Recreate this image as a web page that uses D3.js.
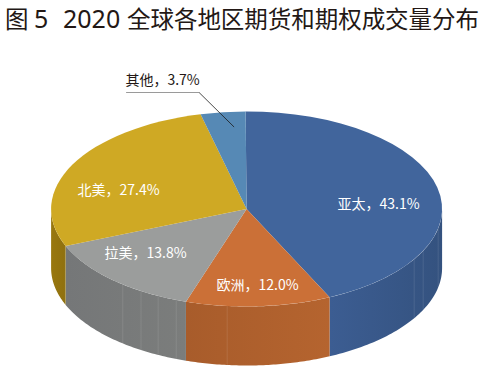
<!DOCTYPE html>
<html>
<head>
<meta charset="utf-8">
<script src="https://cdn.jsdelivr.net/npm/d3@7"></script>
<style>
	html, body { margin: 0; padding: 0; background: #fff; }
	svg { display: block; }
	text { font-family: "Noto Sans CJK SC", "Noto Sans", sans-serif; }
</style>
</head>
<body>
<div id="chart"></div>
<script>
const title_parts = ['图', '5', '2020', '全球各地区期货和期权成交量分布'];

const categories = ['亚太', '欧洲', '拉美', '北美', '其他'];
const values = [43.1, 12.0, 13.8, 27.4, 3.7];

const top_colors = ['#41659c', '#cb7037', '#9b9d9c', '#cfa924', '#5689b5'];
const side_colors = [['#3c5d92', '#34527f'], ['#a85c2b', '#b5642f'], ['#757778', '#7b7d7c'], ['#99780f', '#8f700f'], ['#4a7aa3', '#4a7aa3']];

// faint vertical seams on the rim, in degrees clockwise from 12 o'clock
const seam_angles = [101.5, 115.4, 121, 185.7, 201.1, 206.9, 212.7, 219.3, 248];

const width = 493;
const height = 369;
const cx = 246.6;
const cy = 209;
const rx = 195.5;
const ry = 97.5;
const depth = 59;
const rotation = -0.005;

// left edge of each title part, the last one is fitted to the full width
const title_x = [5, 34, 63, 127];
const title_fit = [null, null, null, 352];

// label centres relative to the pie centre
const label_offsets = [[132, -5], [11, 76], [-101, 44], [-128, -19], [-84, -129]];

const svg = d3.select('#chart').append('svg')
	.attr('width', width)
	.attr('height', height);

svg.append('g')
	.selectAll('text')
	.data(title_parts)
	.enter()
	.append('text')
	.attr('x', (d, i) => title_x[i])
	.attr('y', 28)
	.each(function(d, i) {
		if (title_fit[i]) {
			d3.select(this)
				.attr('textLength', title_fit[i])
				.attr('lengthAdjust', 'spacing');
		}
	})
	.style('font-family', (d, i) => i === 1 || i === 2 ? '"Noto Sans", sans-serif' : null)
	.style('font-size', (d, i) => i === 1 || i === 2 ? '25px' : '23.5px')
	.style('font-weight', 400)
	.style('fill', '#231815')
	.text(d => d);

const pie = d3.pie().sort(null).value(d => d).startAngle(rotation).endAngle(2 * Math.PI + rotation);
const arcs = pie(values);

const rimPoint = (a, dy = 0) => [cx + rx * Math.sin(a), cy - ry * Math.cos(a) + dy];

const defs = svg.append('defs');
const rim = svg.append('g');

arcs.forEach((d, i) => {
	const a0 = Math.max(d.startAngle, Math.PI / 2);
	const a1 = Math.min(d.endAngle, Math.PI * 3 / 2);

	if (a0 >= a1) {
		return;
	}

	const steps = d3.range(0, 61).map(k => a0 + (a1 - a0) * k / 60);
	const outline = [...steps.map(a => rimPoint(a)), ...steps.reverse().map(a => rimPoint(a, depth))];

	const gradient = defs.append('linearGradient')
		.attr('id', `rim-${i}`)
		.attr('gradientUnits', 'objectBoundingBox')
		.attr('x1', 0)
		.attr('x2', 1);

	gradient.append('stop').attr('offset', 0).attr('stop-color', side_colors[i][0]);
	gradient.append('stop').attr('offset', 1).attr('stop-color', side_colors[i][1]);

	rim.append('path')
		.attr('d', d3.line()(outline) + 'Z')
		.attr('fill', `url(#rim-${i})`);
});

rim.selectAll('line')
	.data(seam_angles)
	.enter()
	.append('line')
	.each(function(deg) {
		const a = deg * Math.PI / 180;
		const [x, y] = rimPoint(a);

		d3.select(this)
			.attr('x1', x)
			.attr('x2', x)
			.attr('y1', y)
			.attr('y2', y + depth);
	})
	.attr('stroke', '#fff')
	.attr('stroke-opacity', 0.13)
	.attr('stroke-width', 0.8);

const arc = d3.arc().innerRadius(0).outerRadius(rx);

svg.append('g')
	.attr('transform', `translate(${cx} ${cy}) scale(1 ${ry / rx})`)
	.selectAll('path')
	.data(arcs)
	.enter()
	.append('path')
	.attr('d', arc)
	.attr('fill', (d, i) => top_colors[i]);

// leader line of the small slice
svg.append('path')
	.attr('d', d3.line()([[cx - 120.5, cy - 116.5], [cx - 47.5, cy - 116.5]]))
	.attr('fill', 'none')
	.attr('stroke', '#9a9a9a')
	.attr('stroke-width', 1);

svg.append('path')
	.attr('d', d3.line()([[cx - 47.5, cy - 116.5], [cx - 12.5, cy - 82]]))
	.attr('fill', 'none')
	.attr('stroke', '#1a1a1a')
	.attr('stroke-width', 0.8);

svg.append('g')
	.selectAll('text')
	.data(categories)
	.enter()
	.append('text')
	.attr('x', (d, i) => cx + label_offsets[i][0])
	.attr('y', (d, i) => cy + label_offsets[i][1])
	.attr('dy', '0.36em')
	.attr('text-anchor', 'middle')
	.style('font-size', '14px')
	.style('fill', (d, i) => i === 4 ? '#231815' : '#fff')
	.text((d, i) => `${d}，${values[i].toFixed(1)}%`);
</script>
</body>
</html>
